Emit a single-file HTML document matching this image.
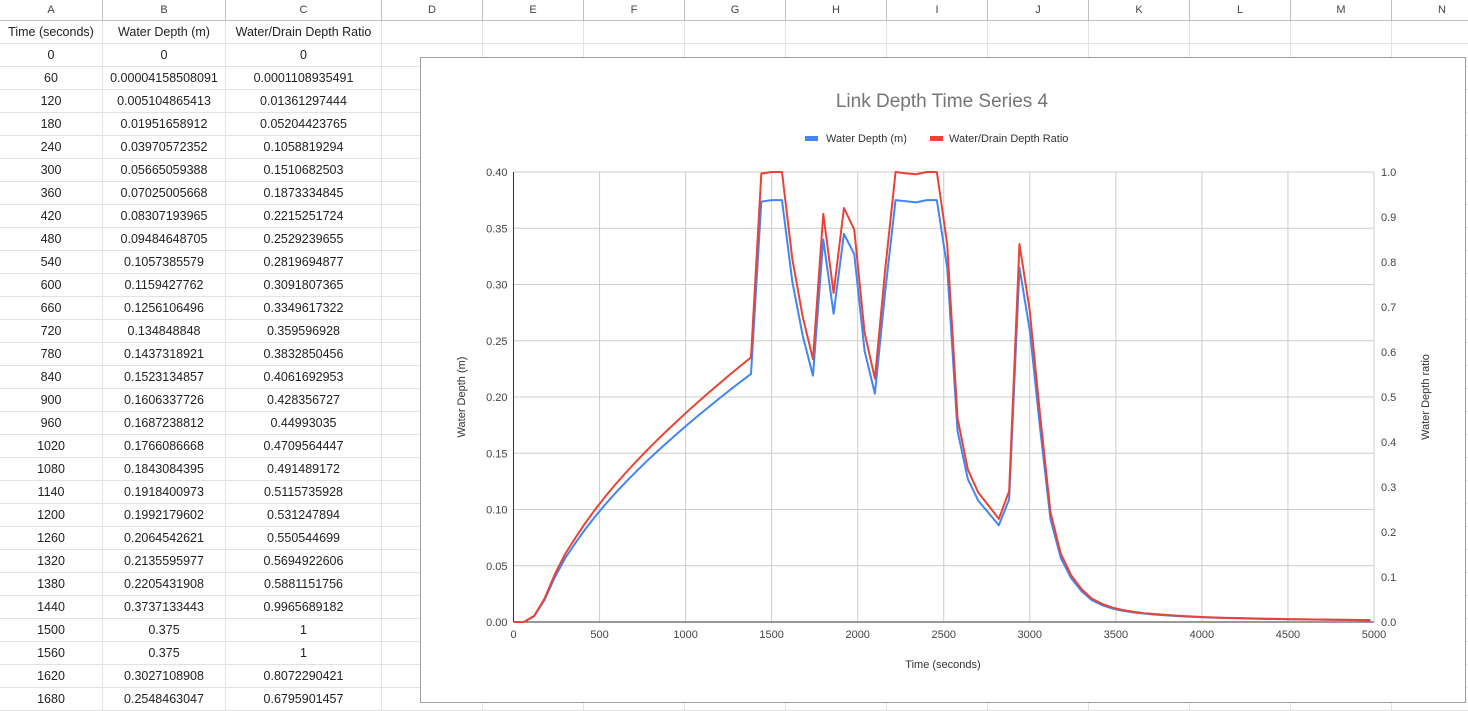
<!DOCTYPE html>
<html><head><meta charset="utf-8">
<style>
body{margin:0;width:1468px;height:706px;overflow:hidden;background:#fff;font-family:"Liberation Sans",Arial,sans-serif;position:relative}
.c{position:absolute;text-align:center;font-size:12.5px;color:#222;box-sizing:border-box;border-right:1px solid #e2e2e2;border-bottom:1px solid #e2e2e2;line-height:22px;height:23px;white-space:nowrap;overflow:hidden}
.h{position:absolute;top:0;height:21px;line-height:21px;text-align:center;font-size:11px;color:#444;border-right:1px solid #c0c0c0;border-bottom:1px solid #c0c0c0;box-sizing:border-box}
#chart{position:absolute;left:420px;top:57px;width:1046px;height:646px;border:1px solid #9e9e9e;background:#fff;box-sizing:border-box}
</style></head><body>
<div id="sheet"></div>
<div id="chart">
<svg id="svg" width="1046" height="646"></svg>
</div>
<script>
const colEdges=[0,103,226,382,483,584,685,786,887,988,1089,1190,1291,1392,1493];
const colLetters=["A","B","C","D","E","F","G","H","I","J","K","L","M","N"];
const tableTimes=["Time (seconds)","0","60","120","180","240","300","360","420","480","540","600","660","720","780","840","900","960","1020","1080","1140","1200","1260","1320","1380","1440","1500","1560","1620","1680"];
const tableDepth=["Water Depth (m)","0","0.00004158508091","0.005104865413","0.01951658912","0.03970572352","0.05665059388","0.07025005668","0.08307193965","0.09484648705","0.1057385579","0.1159427762","0.1256106496","0.134848848","0.1437318921","0.1523134857","0.1606337726","0.1687238812","0.1766086668","0.1843084395","0.1918400973","0.1992179602","0.2064542621","0.2135595977","0.2205431908","0.3737133443","0.375","0.375","0.3027108908","0.2548463047"];
const tableRatio=["Water/Drain Depth Ratio","0","0.0001108935491","0.01361297444","0.05204423765","0.1058819294","0.1510682503","0.1873334845","0.2215251724","0.2529239655","0.2819694877","0.3091807365","0.3349617322","0.359596928","0.3832850456","0.4061692953","0.428356727","0.44993035","0.4709564447","0.491489172","0.5115735928","0.531247894","0.550544699","0.5694922606","0.5881151756","0.9965689182","1","1","0.8072290421","0.6795901457"];
const sheet=document.getElementById('sheet');
for(let i=0;i<colLetters.length;i++){
  const d=document.createElement('div');d.className='h';
  
  
  d.style.left=colEdges[i]+'px';d.style.width=(colEdges[i+1]-colEdges[i])+'px';d.textContent=colLetters[i];sheet.appendChild(d);
}
const cols=[tableTimes,tableDepth,tableRatio];
for(let r=0;r<30;r++){
  for(let c=0;c<14;c++){
    const d=document.createElement('div');d.className='c';
    
    
    d.style.left=colEdges[c]+'px';d.style.width=(colEdges[c+1]-colEdges[c])+'px';d.style.top=(21+r*23)+'px';
    if(c<3)d.textContent=cols[c][r];
    sheet.appendChild(d);
  }
}
</script>
<script>
const depth=[0,0.0000416,0.0051,0.0195,0.0397,0.0567,0.0703,0.0831,0.0948,0.1057,0.1159,0.1256,0.1348,0.1437,0.1523,0.1606,0.1687,0.1766,0.1843,0.1918,0.1992,0.2065,0.2136,0.2205,0.3737,0.375,0.375,0.3027,0.2548,
0.219,0.340,0.274,0.345,0.327,0.241,0.203,0.294,0.375,0.374,0.373,0.375,0.375,
0.315,0.170,0.127,0.108,0.097,0.086,0.109,0.315,0.259,0.172,0.0915,0.057,0.039,0.0275,0.0195,0.015,0.012,0.010,0.0085,
0.0075,0.0067,0.006,0.0054,0.0049,0.0045,0.0041,0.0038,0.0035,0.0033,0.0031,0.0029,0.0027,0.0026,0.0024,0.0023,0.0022,0.0021,0.002,0.0019,0.0018,0.0017,0.0016];
const ratio=[0,0.0001,0.0136,0.052,0.1059,0.1511,0.1873,0.2215,0.2529,0.282,0.3092,0.335,0.3596,0.3833,0.4062,0.4284,0.4499,0.471,0.4915,0.5116,0.5312,0.5505,0.5695,0.5881,0.9966,1,1,0.8072,0.6796,
0.584,0.907,0.731,0.92,0.872,0.643,0.541,0.784,1,0.997,0.995,1,1,
0.84,0.453,0.339,0.288,0.259,0.229,0.291,0.84,0.691,0.459,0.244,0.152,0.104,0.0733,0.052,0.04,0.032,0.0267,0.0227,
0.02,0.0179,0.016,0.0144,0.0131,0.012,0.0109,0.0101,0.0093,0.0088,0.0083,0.0077,0.0072,0.0069,0.0064,0.0061,0.0059,0.0056,0.0053,0.0051,0.0048,0.0045,0.0043];
const timeStep=60;
const xTicks=[0,500,1000,1500,2000,2500,3000,3500,4000,4500,5000];
const yLeftTicks=["0.00","0.05","0.10","0.15","0.20","0.25","0.30","0.35","0.40"];
const yRightTicks=["0.0","0.1","0.2","0.3","0.4","0.5","0.6","0.7","0.8","0.9","1.0"];
const OX=420,OY=57;
const L=512.5-OX,R=1373-OX,T=171-OY,B=621-OY;
const xs=t=>L+(t/5000)*(R-L);
const yl=v=>B-(v/0.4)*(B-T);
const yr=v=>B-(v/1.0)*(B-T);
const svg=document.getElementById('svg');const NS='http://www.w3.org/2000/svg';
function mk(tag,at,name){const e=document.createElementNS(NS,tag);for(const k in at)e.setAttribute(k,at[k]);svg.appendChild(e);return e;}
function tx(x,y,s,anchor,size,fill,name,extra){const e=mk('text',Object.assign({x:x,y:y,'text-anchor':anchor,'font-size':size,fill:fill,'font-family':'Liberation Sans, Arial, sans-serif'},extra||{}),name);e.textContent=s;return e;}
xTicks.forEach(t=>{if(t>0)mk('line',{x1:xs(t),x2:xs(t),y1:T,y2:B,stroke:'#cccccc','stroke-width':1},'x-gridline');
  tx(xs(t),B+16,String(t),'middle',11,'#444','x-tick-label');});
yLeftTicks.forEach(s=>{const v=parseFloat(s);if(v>0)mk('line',{x1:L,x2:R,y1:yl(v),y2:yl(v),stroke:'#cccccc','stroke-width':1},'y-gridline');
  tx(L-6,yl(v)+4,s,'end',11,'#444','y-left-tick-label');});
mk('line',{x1:R,x2:R,y1:T,y2:B,stroke:'#cccccc','stroke-width':1},'right-gridline');
yRightTicks.forEach(s=>{tx(R+7,yr(parseFloat(s))+4,s,'start',11,'#444','y-right-tick-label');});
mk('line',{x1:L,x2:R,y1:B,y2:B,stroke:'#333','stroke-width':1},'x-axis-line');
mk('line',{x1:L,x2:L,y1:T,y2:B,stroke:'#333','stroke-width':1},'y-axis-line');
mk('polyline',{points:depth.map((v,i)=>xs(i*timeStep)+','+yl(v)).join(' '),fill:'none',stroke:'#4285f4','stroke-width':2,'stroke-linejoin':'round'},'water-depth-line');
mk('polyline',{points:ratio.map((v,i)=>xs(i*timeStep)+','+yr(v)).join(' '),fill:'none',stroke:'#ea4335','stroke-width':2,'stroke-linejoin':'round'},'depth-ratio-line');
tx(521,49,'Link Depth Time Series 4','middle',19,'#757575','chart-title');
mk('rect',{x:384,y:78,width:13,height:5,fill:'#4285f4'},'legend-swatch-depth');
tx(405,84,'Water Depth (m)','start',11,'#333','legend-label-depth');
mk('rect',{x:509,y:78,width:13,height:5,fill:'#ea4335'},'legend-swatch-ratio');
tx(528,84,'Water/Drain Depth Ratio','start',11,'#333','legend-label-ratio');
tx(522,610,'Time (seconds)','middle',11,'#333','x-axis-title');
tx(0,0,'Water Depth (m)','middle',11,'#333','y-left-axis-title',{transform:'translate(44,339) rotate(-90)'});
tx(0,0,'Water Depth ratio','middle',11,'#333','y-right-axis-title',{transform:'translate(1008,339) rotate(-90)'});
</script>
</body></html>
